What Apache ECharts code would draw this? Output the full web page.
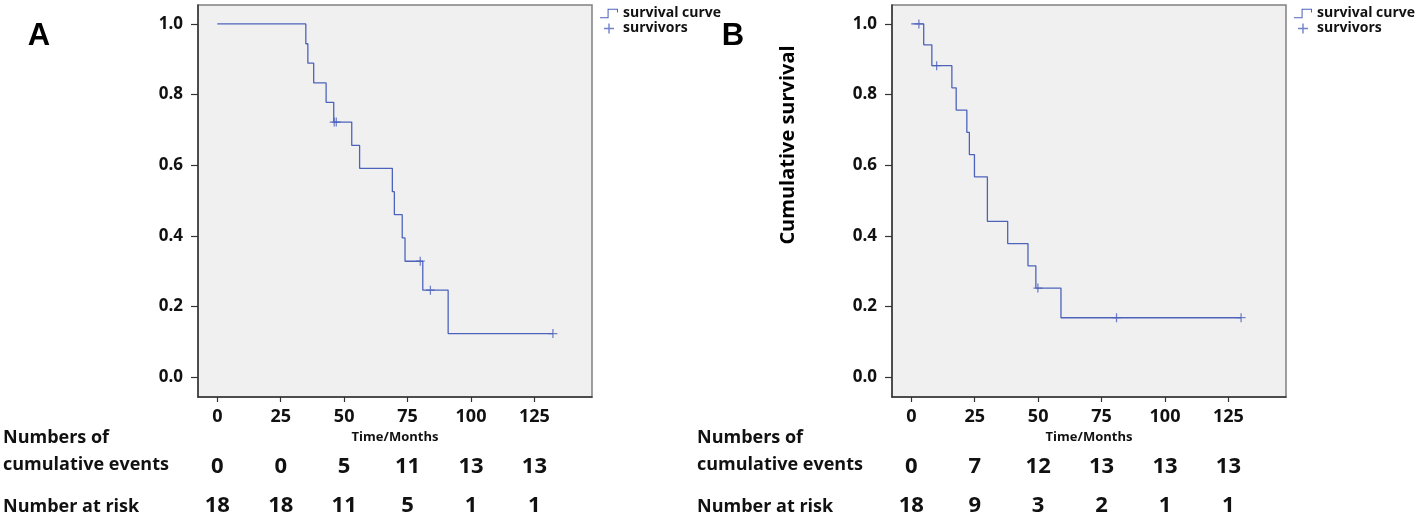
<!DOCTYPE html>
<html>
<head>
<meta charset="utf-8">
<script src="https://cdn.jsdelivr.net/npm/echarts@6.0.0/dist/echarts.min.js"></script>
<style>
  html, body { margin: 0; padding: 0; background: #fff; }
  #main { width: 1418px; height: 517px; }
</style>
</head>
<body>
<div id="main"></div>
<script>
// ticks shared by both panels
const xTicks = [0, 25, 50, 75, 100, 125];
const yTicks = [0, 0.2, 0.4, 0.6, 0.8, 1.0];

// panel A: Kaplan-Meier steps (time in months, cumulative survival)
const timesA = [0, 34.9, 35.7, 38.0, 42.9, 45.9, 53.0, 56.1, 69.0, 69.8, 72.9, 74.0, 81.0, 91.0, 132.3];
const survA = [1.0, 0.944, 0.889, 0.833, 0.778, 0.722, 0.656, 0.591, 0.525, 0.460, 0.394, 0.328, 0.246, 0.123, 0.123];
const censorTimesA = [46.1, 46.9, 80.0, 84.0, 132.3];
const censorSurvA = [0.722, 0.722, 0.328, 0.246, 0.123];
const eventsA = [0, 0, 5, 11, 13, 13];
const atRiskA = [18, 18, 11, 5, 1, 1];

// panel B
const timesB = [0, 4.9, 8.1, 16.0, 17.7, 21.9, 22.9, 24.9, 30.0, 38.0, 46.0, 49.1, 59.0, 130.0];
const survB = [1.0, 0.941, 0.882, 0.819, 0.756, 0.693, 0.630, 0.567, 0.441, 0.378, 0.315, 0.252, 0.168, 0.168];
const censorTimesB = [3.0, 10.0, 49.9, 80.9, 130.0];
const censorSurvB = [1.0, 0.882, 0.252, 0.168, 0.168];
const eventsB = [0, 7, 12, 13, 13, 13];
const atRiskB = [18, 9, 3, 2, 1, 1];

const rowLabels = ["Numbers of", "cumulative events", "Number at risk"];
const legendNames = ["survival curve", "survivors"];
const panelNames = ["A", "B"];
const xName = "Time/Months";
const yName = "Cumulative survival";

const BLUE = "#4d63bb";
const FONT = "'Open Sans', 'Noto Sans', sans-serif";
const stepIcon = "path://M0,8.6 H7.4 V0.4 H17.6 V4 H16.6 V1.4 H8.4 V9.6 H0 Z";
const plusIcon = "path://M4.3,0 H5.7 V4.3 H10 V5.7 H5.7 V10 H4.3 V5.7 H0 V4.3 H4.3 Z";

const zip = (a, b) => a.map((v, i) => [v, b[i]]);

const chart = echarts.init(document.getElementById("main"));

const panels = [
  { left: 198, times: timesA, surv: survA, ct: censorTimesA, cs: censorSurvA, ev: eventsA, risk: atRiskA },
  { left: 892, times: timesB, surv: survB, ct: censorTimesB, cs: censorSurvB, ev: eventsB, risk: atRiskB },
];

const grid = [], xAxis = [], yAxis = [], series = [], legend = [];
panels.forEach((p, i) => {
  grid.push({
    left: p.left, top: 5, width: 394, height: 393,
    show: true, backgroundColor: "#f0f0f0", borderColor: "#808080", borderWidth: 1.5,
  });
  const baseX = {
    type: "value", gridIndex: i, min: -7.6, max: 147.7, position: "bottom",
    splitLine: { show: false },
  };
  xAxis.push(Object.assign({}, baseX, {
    name: xName, nameLocation: "middle", nameGap: 31,
    nameTextStyle: { fontFamily: FONT, fontWeight: "bold", fontSize: 13, color: "#111" },
    axisLine: { show: true, onZero: false, lineStyle: { color: "#333", width: 1.5 } },
    axisTick: { show: true, length: 5, customValues: xTicks, lineStyle: { color: "#333", width: 1.2 } },
    axisLabel: { customValues: xTicks, margin: 11, fontFamily: FONT, fontWeight: "bold", fontSize: 18, color: "#111" },
  }));
  [p.ev, p.risk].forEach((row, r) => {
    xAxis.push(Object.assign({}, baseX, {
      offset: r === 0 ? 59 : 98,
      axisLine: { show: false, onZero: false },
      axisTick: { show: false },
      axisLabel: {
        customValues: xTicks, margin: 0,
        fontFamily: FONT, fontWeight: "bold", fontSize: 22, color: "#111",
        formatter: (v) => String(row[xTicks.indexOf(v)]),
      },
    }));
  });
  yAxis.push({
    type: "value", gridIndex: i, min: -0.0565, max: 1.0537,
    splitLine: { show: false },
    axisLine: { show: true, onZero: false, lineStyle: { color: "#333", width: 1.5 } },
    axisTick: { show: true, length: 7, customValues: yTicks, lineStyle: { color: "#333", width: 1.2 } },
    axisLabel: {
      customValues: yTicks, margin: 15, fontFamily: FONT, fontWeight: "bold", fontSize: 17, color: "#111",
      formatter: (v) => v.toFixed(1),
    },
  });
  series.push({
    name: legendNames[0], type: "line", step: "end", xAxisIndex: i * 3, yAxisIndex: i,
    symbol: "none", data: zip(p.times, p.surv),
    lineStyle: { color: BLUE, width: 1.3 }, itemStyle: { color: BLUE },
  });
  series.push({
    name: legendNames[1], type: "scatter", xAxisIndex: i * 3, yAxisIndex: i,
    symbol: plusIcon, symbolSize: 9, data: zip(p.ct, p.cs),
    itemStyle: { color: BLUE },
  });
  legend.push({
    left: i === 0 ? 595 : 1289, top: 1, orient: "vertical",
    itemWidth: 18, itemHeight: 10, itemGap: 0,
    data: [{ name: legendNames[0], icon: stepIcon }, { name: legendNames[1], icon: plusIcon }],
    textStyle: { fontFamily: FONT, fontWeight: "bold", fontSize: 14, lineHeight: 15, color: "#111", padding: [0, 0, 0, 0] },
  });
});

const graphic = [];
panelNames.forEach((name, i) => {
  graphic.push({
    type: "text", x: i === 0 ? 39 : 733, y: 36,
    style: { text: name, align: "center", verticalAlign: "middle", font: "bold 31px 'Liberation Sans', Arial, sans-serif", fill: "#000" },
  });
  const x0 = i === 0 ? 3 : 697;
  const ys = [438, 465, 507];
  rowLabels.forEach((t, r) => {
    graphic.push({
      type: "text", x: x0, y: ys[r],
      style: { text: t, align: "left", verticalAlign: "middle", font: "bold 18px " + FONT, fill: "#111" },
    });
  });
});
graphic.push({
  type: "text", x: 788, y: 145, rotation: Math.PI / 2,
  style: { text: yName, align: "center", verticalAlign: "middle", font: "bold 20px " + FONT, fill: "#000" },
});

chart.setOption({
  animation: false,
  grid, xAxis, yAxis, series, legend, graphic,
});
window.addEventListener("resize", () => chart.resize());
</script>
</body>
</html>
